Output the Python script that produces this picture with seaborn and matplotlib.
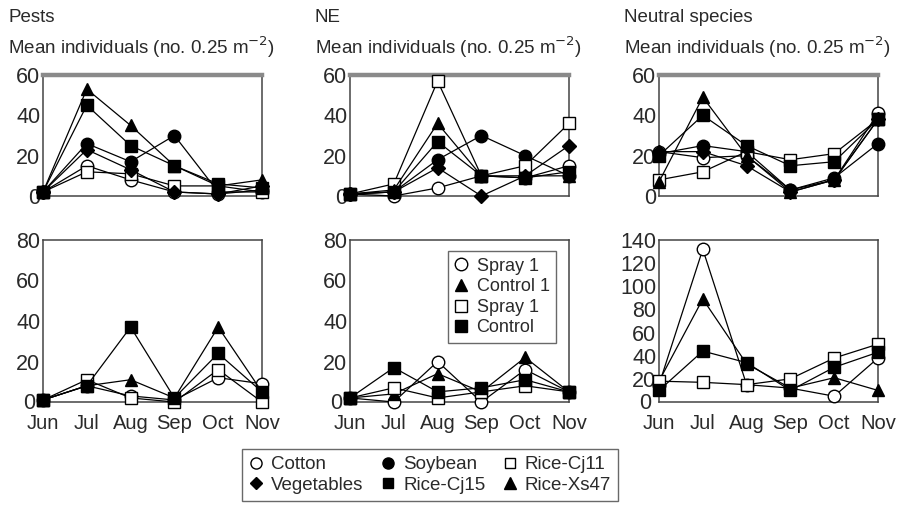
import matplotlib
matplotlib.use("Agg")
import matplotlib.pyplot as plt
import matplotlib.transforms as mtransforms
from matplotlib.lines import Line2D
import seaborn as sns
import pandas as pd

sns.set_theme(style="white")
plt.rcParams['font.family'] = ['Liberation Sans', 'DejaVu Sans']

months = ["Jun", "Jul", "Aug", "Sep", "Oct", "Nov"]

# Top row: six crops
crops = ["Cotton", "Soybean", "Rice-Cj11", "Vegetables", "Rice-Cj15", "Rice-Xs47"]
pests_top = {
    "Cotton":     [2, 15, 8, 2, 1, 3],
    "Soybean":    [2, 26, 17, 30, 2, 2],
    "Rice-Cj11":  [2, 12, 11, 5, 5, 2],
    "Vegetables": [2, 23, 13, 2, 1, 5],
    "Rice-Cj15":  [2, 45, 25, 15, 6, 4],
    "Rice-Xs47":  [2, 53, 35, 15, 5, 8],
}
ne_top = {
    "Cotton":     [1, 0, 4, 10, 9, 15],
    "Soybean":    [1, 2, 18, 30, 20, 10],
    "Rice-Cj11":  [1, 6, 57, 10, 15, 36],
    "Vegetables": [1, 2, 14, 0, 10, 25],
    "Rice-Cj15":  [1, 2, 27, 10, 9, 12],
    "Rice-Xs47":  [1, 3, 36, 10, 10, 10],
}
neutral_top = {
    "Cotton":     [22, 19, 20, 3, 8, 41],
    "Soybean":    [21, 25, 22, 3, 9, 26],
    "Rice-Cj11":  [8, 12, 22, 18, 21, 38],
    "Vegetables": [22, 22, 15, 2, 8, 38],
    "Rice-Cj15":  [20, 40, 25, 15, 17, 38],
    "Rice-Xs47":  [7, 49, 20, 2, 8, 38],
}

# Bottom row: treatments
treatments = ["Spray 1", "Control 1", "Spray 1 ", "Control"]
pests_bot = {
    "Spray 1":   [1, 8, 3, 1, 12, 9],
    "Control 1": [1, 8, 11, 2, 37, 5],
    "Spray 1 ":  [1, 11, 2, 0, 16, 0],
    "Control":   [1, 8, 37, 2, 24, 5],
}
ne_bot = {
    "Spray 1":   [2, 0, 20, 0, 16, 5],
    "Control 1": [2, 4, 14, 5, 22, 5],
    "Spray 1 ":  [2, 7, 2, 5, 8, 5],
    "Control":   [2, 17, 5, 7, 11, 5],
}
neutral_bot = {
    "Spray 1":   [15, 132, 15, 12, 5, 38],
    "Control 1": [18, 89, 33, 12, 21, 10],
    "Spray 1 ":  [18, 17, 15, 20, 38, 50],
    "Control":   [10, 44, 34, 10, 30, 43],
}

titles = ["Pests", "NE", "Neutral species"]
ylabel = "Mean individuals (no. 0.25 m$^{-2}$)"

crop_style = {
    "Cotton":     dict(marker="o", mfc="white", ms=9),
    "Soybean":    dict(marker="o", mfc="black", ms=9),
    "Rice-Cj11":  dict(marker="s", mfc="white", ms=8),
    "Vegetables": dict(marker="D", mfc="black", ms=7),
    "Rice-Cj15":  dict(marker="s", mfc="black", ms=8),
    "Rice-Xs47":  dict(marker="^", mfc="black", ms=9),
}
treat_style = {
    "Spray 1":   dict(marker="o", mfc="white", ms=9),
    "Control 1": dict(marker="^", mfc="black", ms=9),
    "Spray 1 ":  dict(marker="s", mfc="white", ms=8),
    "Control":   dict(marker="s", mfc="black", ms=8),
}

W, H = 914, 505
fig = plt.figure(figsize=(W / 100, H / 100), dpi=100)
fig.patch.set_facecolor("white")

lefts = [43, 350, 659]
axw = 219
top_row = (75, 196)
bot_row = (240, 402)

txtc = "#2a2a2a"
spc = "#444444"


def make_ax(left, row):
    t, b = row
    return fig.add_axes([left / W, 1 - b / H, axw / W, (b - t) / H])


def draw(ax, data, order, styles, ymax, yticks, thick_top, show_x):
    x = list(range(len(months)))
    for name in order:
        df = pd.DataFrame({"x": x, "y": data[name]})
        st = styles[name]
        sns.lineplot(data=df, x="x", y="y", ax=ax, color="black", lw=0.9,
                     marker=st["marker"], markerfacecolor=st["mfc"],
                     markeredgecolor="black", markeredgewidth=1.0,
                     markersize=st["ms"], clip_on=False, zorder=3,
                     legend=False)
    ax.set_xlim(0, 5)
    ax.set_ylim(0, ymax)
    ax.set_yticks(yticks)
    ax.set_xticks(x)
    if show_x:
        ax.set_xticklabels(months)
    else:
        ax.set_xticklabels([])
    ax.set_xlabel("")
    ax.set_ylabel("")
    ax.tick_params(direction="in", length=10, width=1, colors=spc,
                   labelcolor=txtc, labelsize=15.5, pad=2)
    ax.tick_params(axis="x", length=9, pad=8.5, labelsize=14.5)
    for s in ax.spines.values():
        s.set_visible(True)
        s.set_color(spc)
        s.set_linewidth(1.1)
    if thick_top:
        ax.spines["top"].set_color("#8a8a8a")
        ax.spines["top"].set_linewidth(3.2)
    if show_x:
        # nudge the "0" label left so it clears the month labels
        zero = ax.get_yticklabels()[0]
        zero.set_transform(zero.get_transform() +
                           mtransforms.ScaledTranslation(-5 / 100, 1 / 100,
                                                         fig.dpi_scale_trans))
    ax.set_facecolor("white")
    ax.grid(False)


top_data = [pests_top, ne_top, neutral_top]
bot_data = [pests_bot, ne_bot, neutral_bot]
bot_ylim = [(80, [0, 20, 40, 60, 80]), (80, [0, 20, 40, 60, 80]),
            (140, [0, 20, 40, 60, 80, 100, 120, 140])]

for i in range(3):
    ax = make_ax(lefts[i], top_row)
    draw(ax, top_data[i], crops, crop_style, 60, [0, 20, 40, 60], True, False)
    fig.text((lefts[i] - 35) / W, 1 - 18 / H, titles[i], fontsize=13.5,
             color=txtc, va="center", ha="left")
    fig.text((lefts[i] - 35) / W, 1 - 47 / H, ylabel, fontsize=13.5,
             color=txtc, va="center", ha="left")

for i in range(3):
    ax = make_ax(lefts[i], bot_row)
    ymax, yt = bot_ylim[i]
    draw(ax, bot_data[i], treatments, treat_style, ymax, yt, False, True)
    if i == 1:
        handles = [Line2D([], [], ls="none", marker=treat_style[n]["marker"],
                          markerfacecolor=treat_style[n]["mfc"],
                          markeredgecolor="black", markersize=treat_style[n]["ms"])
                   for n in treatments]
        leg = ax.legend(handles, [n.strip() for n in treatments],
                        loc="upper right", bbox_to_anchor=(0.94, 0.93),
                        borderaxespad=0.0,
                        frameon=True, fancybox=False, fontsize=13,
                        handlelength=0.8, handletextpad=0.45, labelspacing=0.2,
                        borderpad=0.35, edgecolor=spc)
        leg.get_frame().set_linewidth(1.0)
        for t in leg.get_texts():
            t.set_color(txtc)

# bottom legend
order_cm = ["Cotton", "Vegetables", "Soybean", "Rice-Cj15", "Rice-Cj11", "Rice-Xs47"]
handles = [Line2D([], [], ls="none", marker=crop_style[n]["marker"],
                  markerfacecolor=crop_style[n]["mfc"], markeredgecolor="black",
                  markersize=crop_style[n]["ms"] - 1)
           for n in order_cm]
leg = fig.legend(handles, order_cm, ncol=3, loc="center",
                 bbox_to_anchor=(430 / W, 1 - 475 / H), frameon=True,
                 fancybox=False, fontsize=13.5, handlelength=0.8,
                 handletextpad=0.4, columnspacing=0.9, labelspacing=0.2,
                 borderpad=0.35, edgecolor=spc)
leg.get_frame().set_linewidth(1.0)
for t in leg.get_texts():
    t.set_color(txtc)

fig.savefig("out.png", dpi=100, facecolor="white")
